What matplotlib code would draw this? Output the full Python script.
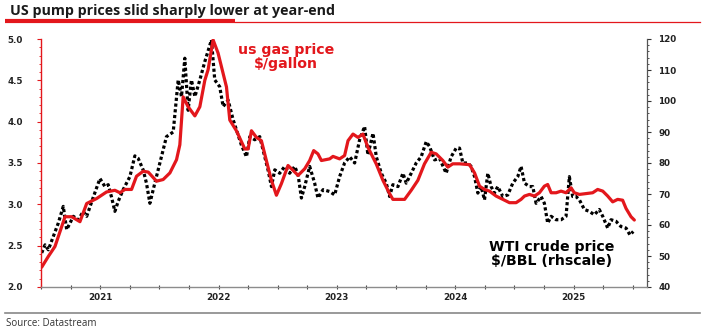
import matplotlib
matplotlib.use("Agg")
import matplotlib.pyplot as plt
from matplotlib.ticker import FixedLocator, MultipleLocator, NullFormatter
from matplotlib.lines import Line2D
from matplotlib.font_manager import FontProperties

# US retail gasoline price ($/gallon), dates as decimal years
gas_t = [2021.006, 2021.062, 2021.118, 2021.203, 2021.259, 2021.329, 2021.386, 2021.470,
         2021.554, 2021.624, 2021.667, 2021.709, 2021.765, 2021.807, 2021.863, 2021.906,
         2021.976, 2022.032, 2022.089, 2022.145, 2022.173, 2022.201, 2022.243, 2022.300,
         2022.342, 2022.384, 2022.412, 2022.454, 2022.496, 2022.567, 2022.595, 2022.651,
         2022.722, 2022.750, 2022.778, 2022.820, 2022.862, 2022.904, 2022.947, 2022.989,
         2023.031, 2023.087, 2023.130, 2023.172, 2023.228, 2023.270, 2023.304, 2023.340,
         2023.369, 2023.439, 2023.467, 2023.523, 2023.565, 2023.594, 2023.636, 2023.678,
         2023.720, 2023.762, 2023.832, 2023.889, 2023.945, 2023.973, 2024.030, 2024.072,
         2024.128, 2024.184, 2024.240, 2024.297, 2024.339, 2024.395, 2024.437, 2024.479,
         2024.536, 2024.620, 2024.663, 2024.705, 2024.747, 2024.789, 2024.845, 2024.902,
         2024.958, 2025.014, 2025.056, 2025.085, 2025.127, 2025.169, 2025.211, 2025.253,
         2025.281, 2025.310, 2025.352, 2025.394, 2025.436, 2025.478, 2025.506, 2025.549,
         2025.605, 2025.661, 2025.703, 2025.746, 2025.788, 2025.830, 2025.872, 2025.914,
         2025.943, 2025.985, 2026.013]
gas_v = [2.24, 2.37, 2.49, 2.85, 2.85, 2.79, 3.01, 3.07,
         3.15, 3.17, 3.14, 3.18, 3.18, 3.34, 3.40, 3.39,
         3.28, 3.30, 3.38, 3.54, 3.72, 4.30, 4.18, 4.07,
         4.18, 4.50, 4.63, 4.99, 4.83, 4.42, 4.02, 3.89,
         3.67, 3.67, 3.89, 3.81, 3.77, 3.53, 3.29, 3.11,
         3.25, 3.47, 3.41, 3.35, 3.43, 3.53, 3.65, 3.61,
         3.53, 3.55, 3.58, 3.55, 3.59, 3.77, 3.85, 3.81,
         3.85, 3.69, 3.49, 3.29, 3.13, 3.06, 3.06, 3.06,
         3.17, 3.29, 3.49, 3.63, 3.61, 3.53, 3.45, 3.49,
         3.49, 3.48, 3.38, 3.22, 3.18, 3.16, 3.10, 3.06,
         3.02, 3.02, 3.06, 3.10, 3.12, 3.10, 3.14, 3.22,
         3.24, 3.14, 3.14, 3.16, 3.14, 3.20, 3.14, 3.12,
         3.13, 3.14, 3.18, 3.16, 3.10, 3.03, 3.06, 3.05,
         2.95, 2.85, 2.81]

# WTI crude oil price ($/bbl), right-hand scale
wti_t = [2021.006, 2021.034, 2021.062, 2021.104, 2021.146, 2021.188, 2021.217, 2021.245,
         2021.273, 2021.315, 2021.357, 2021.386, 2021.442, 2021.498, 2021.540, 2021.568,
         2021.596, 2021.624, 2021.652, 2021.694, 2021.751, 2021.793, 2021.821, 2021.863,
         2021.891, 2021.920, 2021.948, 2022.004, 2022.060, 2022.117, 2022.159, 2022.187,
         2022.215, 2022.243, 2022.271, 2022.300, 2022.342, 2022.384, 2022.440, 2022.468,
         2022.510, 2022.539, 2022.581, 2022.623, 2022.651, 2022.693, 2022.736, 2022.764,
         2022.806, 2022.848, 2022.890, 2022.918, 2022.947, 2022.975, 2023.017, 2023.059,
         2023.101, 2023.144, 2023.172, 2023.200, 2023.228, 2023.270, 2023.312, 2023.340,
         2023.383, 2023.439, 2023.481, 2023.523, 2023.565, 2023.608, 2023.650, 2023.692,
         2023.734, 2023.762, 2023.805, 2023.833, 2023.875, 2023.917, 2023.945, 2023.973,
         2024.016, 2024.058, 2024.086, 2024.128, 2024.170, 2024.212, 2024.255, 2024.283,
         2024.325, 2024.367, 2024.423, 2024.465, 2024.508, 2024.536, 2024.564, 2024.606,
         2024.634, 2024.663, 2024.691, 2024.719, 2024.747, 2024.775, 2024.803, 2024.831,
         2024.859, 2024.902, 2024.944, 2024.986, 2025.028, 2025.056, 2025.085, 2025.127,
         2025.155, 2025.183, 2025.225, 2025.253, 2025.281, 2025.310, 2025.352, 2025.394,
         2025.436, 2025.464, 2025.492, 2025.520, 2025.549, 2025.591, 2025.633, 2025.675,
         2025.717, 2025.746, 2025.788, 2025.816, 2025.858, 2025.900, 2025.943, 2025.976,
         2026.004]
wti_v = [51.0, 53.6, 52.0, 56.3, 60.6, 66.0, 58.5, 60.6,
         62.8, 61.7, 64.4, 62.8, 69.0, 75.0, 72.4, 73.0,
         69.0, 64.4, 67.6, 71.4, 75.6, 82.3, 81.5, 77.8,
         73.5, 67.0, 71.4, 80.0, 88.5, 90.0, 106.8, 101.4,
         113.8, 97.0, 106.8, 101.4, 106.8, 112.7, 119.7, 106.8,
         104.6, 98.2, 100.3, 94.0, 90.7, 85.8, 82.0, 88.5,
         87.5, 88.5, 82.0, 77.8, 72.4, 77.8, 76.7, 78.9,
         76.7, 78.9, 76.2, 68.7, 72.4, 78.9, 73.5, 68.7,
         71.4, 70.8, 69.7, 75.6, 80.0, 82.0, 80.0, 87.5,
         91.8, 82.6, 89.6, 82.0, 76.7, 73.5, 69.2, 73.0,
         72.4, 76.7, 73.5, 76.7, 80.0, 82.0, 86.9, 85.3,
         81.0, 81.5, 76.7, 82.0, 84.8, 84.8, 80.0, 80.0,
         78.9, 75.6, 70.3, 72.4, 68.1, 76.7, 72.4, 70.3,
         72.4, 69.2, 69.7, 73.5, 75.6, 78.9, 73.5, 72.4,
         72.4, 67.0, 69.2, 67.0, 60.6, 62.8, 61.7, 61.7,
         62.8, 75.6, 69.2, 69.2, 68.1, 65.0, 64.4, 63.3,
         65.0, 62.8, 59.0, 61.7, 61.2, 59.5, 59.0, 56.8,
         57.9]

years = [2021, 2022, 2023, 2024, 2025]
year_labels = ["2021", "2022", "2023", "2024", "2025"]

RED = "#e3171c"
AXIS_GREY = "#8c8c8c"

fig = plt.figure(figsize=(7.09, 3.33), dpi=100)
fig.patch.set_facecolor("white")

ax = fig.add_axes([41 / 709, 1 - 287 / 333, 606 / 709, 248 / 333])
ax2 = ax.twinx()

# Right-hand scale: WTI (black dotted)
ax2.plot(wti_t, wti_v, color="black", linestyle=(0, (1, 0.8)), linewidth=2.3, zorder=2)
ax2.set_ylim(40, 120)
# Left-hand scale: gasoline (red), drawn on top
ax.set_zorder(ax2.get_zorder() + 1)
ax.patch.set_visible(False)
ax.plot(gas_t, gas_v, color=RED, linewidth=2.3, solid_capstyle="round", zorder=3)
ax.set_ylim(2.0, 5.0)
ax.set_xlim(2021.0, 2026.12)

tick_font = FontProperties(family="DejaVu Sans", weight="bold", size=6.3)

# Left axis
ax.yaxis.set_major_locator(MultipleLocator(0.5))
ax.yaxis.set_minor_locator(MultipleLocator(0.1))
ax.yaxis.set_major_formatter(plt.FuncFormatter(lambda v, p: f"{v:.1f}"))
ax.tick_params(axis="y", which="major", direction="out", length=3, width=0.8,
               color=RED, pad=10, labelcolor="#222222")
ax.tick_params(axis="y", which="minor", direction="out", length=1.5, width=0.6, color=RED)
for lab in ax.get_yticklabels():
    lab.set_fontproperties(tick_font)

# Right axis
ax2.yaxis.set_major_locator(MultipleLocator(10))
ax2.yaxis.set_minor_locator(MultipleLocator(2))
ax2.tick_params(axis="y", which="major", direction="out", length=3, width=0.8,
                color="#333333", pad=5, labelcolor="#222222")
ax2.tick_params(axis="y", which="minor", direction="out", length=1.5, width=0.6, color="#333333")
for lab in ax2.get_yticklabels():
    lab.set_fontproperties(tick_font)

# Bottom axis: quarterly ticks, year labels at mid-year
quarters = [y + q / 4 for y in range(2021, 2026) for q in range(4)] + [2026.0]
ax.xaxis.set_major_locator(FixedLocator([y + 0.5 for y in years]))
ax.xaxis.set_major_formatter(plt.FixedFormatter(year_labels))
ax.xaxis.set_minor_locator(FixedLocator(quarters))
ax.xaxis.set_minor_formatter(NullFormatter())
ax.tick_params(axis="x", which="both", direction="inout", length=3, width=0.8,
               color="#444444", pad=3, labelcolor="#222222")
for lab in ax.get_xticklabels():
    lab.set_fontproperties(tick_font)

for a in (ax, ax2):
    a.spines["top"].set_visible(False)
ax.spines["left"].set_color(RED)
ax.spines["left"].set_linewidth(1.0)
ax.spines["right"].set_visible(False)
ax2.spines["left"].set_visible(False)
ax2.spines["bottom"].set_visible(False)
ax2.spines["right"].set_color("#555555")
ax2.spines["right"].set_linewidth(0.9)
ax.spines["bottom"].set_color(AXIS_GREY)
ax.spines["bottom"].set_linewidth(1.0)

# Series labels
ax.text(0.404, 0.928, "us gas price\n$/gallon", transform=ax.transAxes, ha="center",
        va="center", color=RED, fontsize=10.2, fontweight="bold", linespacing=1.0,
        family="DejaVu Sans")
ax.text(0.843, 0.135, "WTI crude price\n$/BBL (rhscale)", transform=ax.transAxes,
        ha="center", va="center", color="black", fontsize=10.2, fontweight="bold",
        linespacing=1.0, family="DejaVu Sans")

# Title with red rule beneath it
fig.text(10 / 709, 1 - 11 / 333, "US pump prices slid sharply lower at year-end",
         ha="left", va="center", fontsize=10.3, fontweight="bold", family="Open Sans",
         color="#1a1a1a")
fig.add_artist(Line2D([235 / 709, 700 / 709], [1 - 22 / 333, 1 - 22 / 333],
                      color=RED, linewidth=0.9, transform=fig.transFigure))
fig.add_artist(Line2D([5 / 709, 235 / 709], [1 - 21 / 333, 1 - 21 / 333],
                      color=RED, linewidth=3.0, solid_capstyle="butt",
                      transform=fig.transFigure))

# Footer rule and source note
fig.add_artist(Line2D([5 / 709, 700 / 709], [1 - 313 / 333, 1 - 313 / 333],
                      color="#888888", linewidth=1.2, transform=fig.transFigure))
fig.text(6 / 709, 1 - 324 / 333, "Source: Datastream", ha="left", va="center",
         fontsize=7, family="Open Sans", color="#333333")

fig.savefig("out.png", dpi=100, facecolor="white")
